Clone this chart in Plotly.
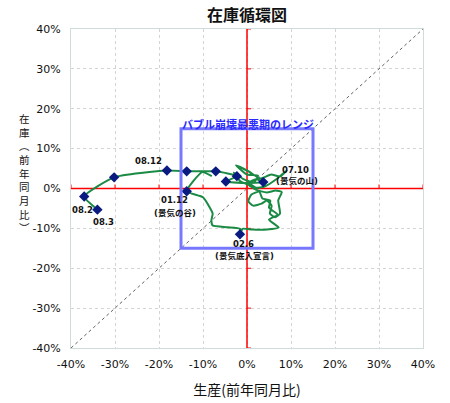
import plotly.graph_objects as go

# Inventory cycle path (production YoY %, inventory YoY %), in time order
path_x = [-8.0, -10.2, -13.7, -10.0, -8.5, -7.8, -8.1, -7.8, -4.4, -1.6, -1.6,
          -1.0, 1.2, 4.5, 7.2, 5.0, 7.0, 5.0, 5.3, 3.5, 2.8, 1.0, 0.3, 1.4, 3.3,
          4.5, 5.6, 5.2, 6.4, 7.5, 7.1, 7.9, 6.5, 4.5, 2.0, 0.5, -1.5, -3.0, -1.0,
          1.5, 2.5, 0.0, -2.5, 0.5, 3.0, 5.5, 7.5, 9.0, 6.5, 4.0, 2.0, 0.5, 2.0,
          3.7, 0.0, -4.8, -2.3, -7.1, -13.7, -18.2, -30.2, -37.0, -34.0]
path_y = [3.1, 4.1, -0.7, -2.2, -4.7, -6.3, -8.0, -9.3, -9.7, -10.1, -11.5,
          -10.1, -10.3, -10.3, -9.8, -7.8, -6.6, -4.8, -3.0, -2.5, -0.8, -1.5, -3.2, -4.3, -3.8,
          -3.0, -4.3, -6.3, -7.2, -6.3, -3.0, -0.9, -0.5, -1.0, -0.3, 0.8, 1.8, 4.0, 2.5,
          1.5, 3.2, 3.5, 5.8, 4.2, 2.5, 3.5, 3.0, 4.5, 2.2, 0.5, 0.2, 1.5, 2.3,
          1.6, 1.4, 1.75, 3.1, 4.3, 4.3, 4.5, 2.8, -2.0, -5.3]

# Highlighted months (markers)
mark_x = [-13.7, -1.6, 3.7, -4.8, -2.3, -7.1, -13.7, -18.2, -30.2, -37.0, -34.0]
mark_y = [-0.7, -11.5, 1.6, 1.75, 3.1, 4.3, 4.3, 4.5, 2.8, -2.0, -5.3]

# Labels
label_text = ["08.12", "08.2", "08.3", "01.12", "(景気の谷)", "07.10", "(景気の山)", "02.6", "(景気底入宣言)"]
label_x = [-22.3, -37.4, -32.7, -16.4, -16.4, 11.1, 11.4, -0.7, -0.5]
label_y = [6.9, -5.5, -8.3, -3.0, -6.2, 4.7, 1.8, -14.0, -17.0]

# Bubble-collapse range box
range_lo, range_hi = -15, 15
range_title = "バブル崩壊最悪期のレンジ"

tick_vals = [-40, -30, -20, -10, 0, 10, 20, 30, 40]
tick_text = ["-40%", "-30%", "-20%", "-10%", "0%", "10%", "20%", "30%", "40%"]

y_title_chars = list("在庫︵前年同月比︶")

FONT = "DejaVu Sans, Noto Sans CJK JP"
CJK = "Noto Sans CJK JP"

fig = go.Figure()

# diagonal reference
fig.add_trace(go.Scatter(x=[-40, 40], y=[-40, 40], mode="lines",
                         line=dict(color="#606060", width=1, dash="dot"),
                         hoverinfo="skip", showlegend=False))

fig.add_trace(go.Scatter(x=path_x, y=path_y, mode="lines",
                         line=dict(color="#1a8a44", width=2, shape="spline", smoothing=0.5),
                         showlegend=False))

fig.add_trace(go.Scatter(x=mark_x, y=mark_y, mode="markers",
                         marker=dict(symbol="diamond", size=8, color="#0a1a80"),
                         showlegend=False))

shapes = []
# red axes
shapes.append(dict(type="line", x0=-40, x1=40, y0=0, y1=0, xref="x", yref="y",
                   line=dict(color="red", width=1.5), layer="between"))
shapes.append(dict(type="line", x0=0, x1=0, y0=-40, y1=40, xref="x", yref="y",
                   line=dict(color="red", width=1.5), layer="between"))
for t in tick_vals:
    shapes.append(dict(type="line", xref="x", yref="y", xsizemode="pixel", xanchor=0,
                       x0=0, x1=4, y0=t, y1=t, line=dict(color="red", width=1), layer="between"))
    shapes.append(dict(type="line", xref="x", yref="y", ysizemode="pixel", yanchor=0,
                       y0=0, y1=4, x0=t, x1=t, line=dict(color="red", width=1), layer="between"))
# range box
shapes.append(dict(type="rect", xref="x", yref="y", x0=range_lo, x1=range_hi,
                   y0=range_lo, y1=range_hi, line=dict(color="#7878ff", width=3)))

annotations = []
for t, x, y in zip(label_text, label_x, label_y):
    annotations.append(dict(x=x, y=y, xref="x", yref="y", text="<b>" + t + "</b>",
                            showarrow=False, font=dict(family=FONT, size=8.5, color="#111")))
annotations.append(dict(x=0.2, y=16.2, xref="x", yref="y", text="<b>" + range_title + "</b>",
                        showarrow=False, font=dict(family=CJK, size=11, color="#2a2aff")))
# vertical y-axis title, one character per line
annotations.append(dict(x=-0.131, y=0.55, xref="paper", yref="paper",
                        text="<br>".join(y_title_chars), showarrow=False,
                        font=dict(family=CJK, size=10.5, color="#111"),
                        xanchor="center", yanchor="middle"))

axis_common = dict(range=[-40, 40], tickvals=tick_vals, ticktext=tick_text,
                   showgrid=True, gridcolor="#d4d4d4", griddash="dot", gridwidth=1,
                   zeroline=False, showline=True, mirror=True, linecolor="#cfdcdc",
                   linewidth=1, ticks="outside", tickcolor="rgba(0,0,0,0)",
                   tickfont=dict(family=FONT, size=11, color="#111"), fixedrange=True,
                   automargin=False)

fig.update_layout(
    width=450, height=403,
    margin=dict(l=71, r=27, t=29, b=55),
    paper_bgcolor="white", plot_bgcolor="white",
    title=dict(text="<b>在庫循環図</b>", x=0.549, xanchor="center", y=0.962, yanchor="middle",
               font=dict(family=CJK, size=16, color="#111")),
    xaxis=dict(**axis_common, ticklen=6,
               title=dict(text="生産(前年同月比)", font=dict(family=CJK, size=14, color="#111"),
                          standoff=14)),
    yaxis=dict(**axis_common, ticklen=7),
    shapes=shapes, annotations=annotations,
)

fig.write_html("out.html")
